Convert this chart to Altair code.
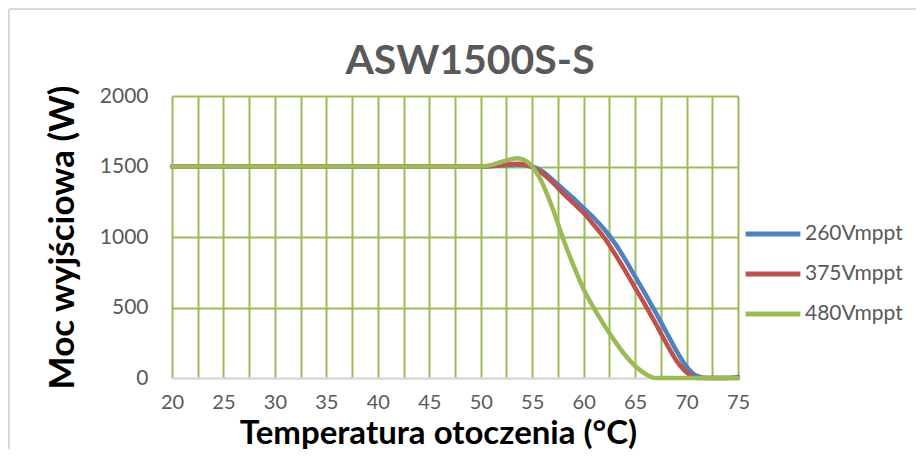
import altair as alt
import pandas as pd

# ---- data ----
chart_title = "ASW1500S-S"
temps = [20, 25, 30, 35, 40, 45, 50, 51, 52, 53, 53.5, 54, 55, 56, 57, 58, 59, 60,
         61, 62, 63, 64, 65, 66, 67, 68, 69, 70, 71, 72, 73, 74, 75]
p260 = [1500, 1500, 1500, 1500, 1500, 1500, 1500, 1502, 1507, 1511, 1512, 1511, 1500, 1465, 1405,
        1340, 1275, 1205, 1135, 1055, 960, 845, 720, 595, 465, 330, 195, 80, 15, 0, 0, 0, 8]
p375 = [1500, 1500, 1500, 1500, 1500, 1500, 1500, 1504, 1511, 1518, 1520, 1518, 1495, 1450, 1385,
        1310, 1240, 1170, 1085, 995, 885, 765, 640, 515, 385, 250, 125, 40, 0, 0, 0, 0, 0]
p480 = [1500, 1500, 1500, 1500, 1500, 1500, 1500, 1510, 1532, 1552, 1558, 1552, 1500, 1380, 1200,
        990, 800, 630, 495, 375, 265, 165, 85, 30, 0, 0, 0, 0, 0, 0, 0, 0, 0]
series_names = ["260Vmppt", "375Vmppt", "480Vmppt"]
series_colors = ["#4F81BD", "#C0504D", "#9BBB59"]
x_grid = [20 + 2.5 * i for i in range(23)]
y_ticks = [0, 500, 1000, 1500, 2000]

rows = []
for name, vals in zip(series_names, [p260, p375, p480]):
    for i, (t, v) in enumerate(zip(temps, vals)):
        rows.append({"t": t, "p": v, "s": name, "o": i})
df = pd.DataFrame(rows)

FONT = "Lato"
GRID = "#9BBB59"

lines = alt.Chart(df).mark_line(interpolate="monotone", strokeWidth=4.5, strokeCap="round").encode(
    x=alt.X("t:Q", scale=alt.Scale(domain=[20, 75], nice=False, zero=False),
            axis=alt.Axis(values=x_grid, grid=True, gridColor=GRID, gridWidth=2,
                          ticks=False, domainColor="#D9D9D9", domainWidth=2,
                          labelExpr="datum.value % 5 == 0 ? datum.label : ''",
                          labelFont=FONT, labelFontSize=20, labelColor="#595959",
                          labelPadding=14, labelFlush=False,
                          title="Temperatura otoczenia (°C)", titleFont=FONT,
                          titleFontSize=33, titleFontWeight="bold", titleColor="#000000",
                          titleX=266, titleY=65, titleBaseline="alphabetic")),
    y=alt.Y("p:Q", scale=alt.Scale(domain=[0, 2000], nice=False),
            axis=alt.Axis(values=y_ticks, grid=True, format="d",
                          gridColor={"condition": {"test": "datum.value === 0", "value": "#D9D9D9"}, "value": GRID},
                          gridWidth=2, ticks=False, domain=False,
                          labelFont=FONT, labelFontSize=21, labelColor="#595959",
                          labelPadding=24,
                          title="Moc wyjściowa (W)", titleFont=FONT, titleFontSize=35,
                          titleFontWeight="bold", titleColor="#000000",
                          titleX=-110, titleY=141, titleAngle=-90,
                          titleAlign="center", titleBaseline="middle")),
    color=alt.Color("s:N", scale=alt.Scale(domain=series_names, range=series_colors),
                    legend=alt.Legend(title=None, orient="none", legendX=571, legendY=108,
                                      symbolType="stroke", symbolSize=3000, symbolStrokeWidth=5,
                                      labelFont=FONT, labelFontSize=21, labelColor="#595959",
                                      labelOffset=2, rowPadding=-10)),
    order=alt.Order("o:Q"),
)

one = alt.Data(values=[{"k": 1}])
frame = alt.Chart(one).mark_rule(color="#D9D9D9", strokeWidth=2).encode(
    x=alt.value(-163), x2=alt.value(760), y=alt.value(-87)
)
frame2 = alt.Chart(one).mark_rule(color="#D9D9D9", strokeWidth=2).encode(
    x=alt.value(-163), y=alt.value(-87), y2=alt.value(360)
)
title = alt.Chart(one).mark_text(font=FONT, fontSize=41, fontWeight="bold", color="#595959",
                                 align="center", baseline="alphabetic").encode(
    x=alt.value(298), y=alt.value(-22), text=alt.value(chart_title)
)

chart = alt.layer(frame, frame2, title, lines).properties(
    width=566, height=282,
    autosize=alt.AutoSizeParams(type="none"),
    padding={"left": 164, "top": 88, "right": 178, "bottom": 71},
).configure_view(stroke=None).configure(background="#FFFFFF")

chart.save("out.html", embed_options={"renderer": "svg", "actions": False})
